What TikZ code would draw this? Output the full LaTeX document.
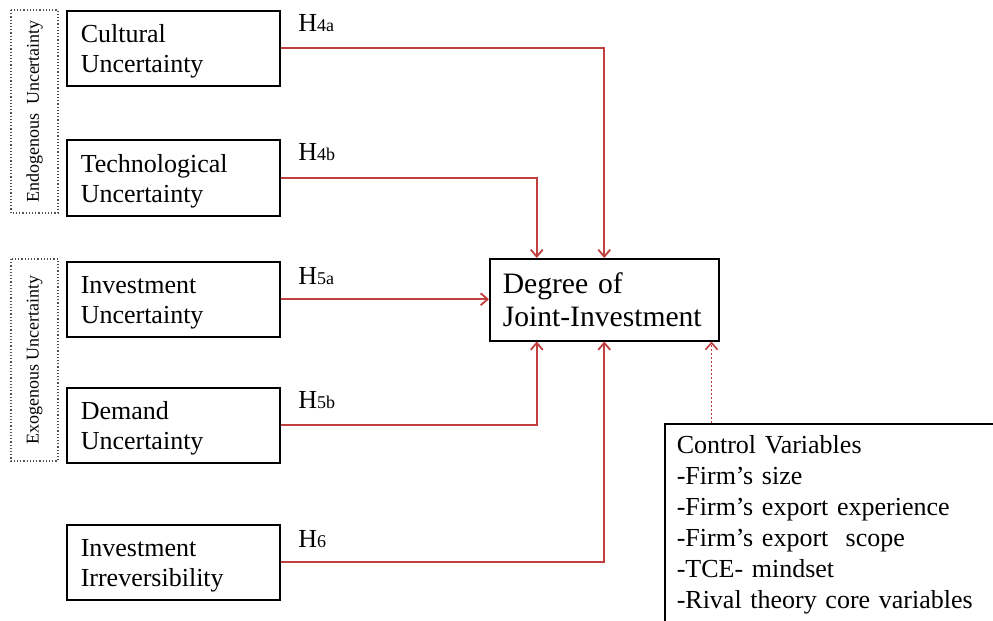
\documentclass[tikz,border=0pt]{standalone}
\usepackage{fontspec}
\setmainfont{Liberation Serif}
\usetikzlibrary{arrows.meta}
\definecolor{linkred}{RGB}{192,64,64}
\definecolor{grpgray}{RGB}{80,80,80}
\tikzset{
  var/.style={draw, line width=0.75pt, anchor=north west,
    minimum width=106.5pt, minimum height=37.5pt,
    text width=92.5pt, inner xsep=7pt, align=left,
    execute at begin node={\rule{0pt}{12.5pt}},
    font=\fontsize{13}{15}\selectfont},
  grp/.style={draw=grpgray, densely dotted, line width=0.6pt, rotate=90,
    minimum height=23.5pt, inner sep=0pt,
    font=\fontsize{9}{10}\selectfont},
  hyp/.style={anchor=base west, inner sep=0pt,
    font=\fontsize{13}{15}\selectfont},
  link/.style={draw=linkred, line width=0.9pt,
    -{Straight Barb[length=3.5pt,width=6pt]}},
  ctrllink/.style={link, dash pattern=on 1pt off 1pt, line width=0.8pt}
}
\newcommand{\hsub}[1]{{\fontsize{9}{9}\selectfont #1}}
\begin{document}
\begin{tikzpicture}[x=0.5pt,y=-0.5pt]
\useasboundingbox (0,0) rectangle (993,621);
\clip (0,0) rectangle (993,621);

% uncertainty groups
\node[grp, minimum width=101.5pt] (endo) at (34.5,111.5) {Endogenous\ \ Uncertainty};
\node[grp, minimum width=101pt] (exo) at (34.5,360) {Exogenous Uncertainty};

% independent variables
\node[var] (cult) at (66,10) {Cultural\\Uncertainty};
\node[var, minimum height=38pt] (tech) at (66,139) {Technological\\Uncertainty};
\node[var] (inv) at (66,261) {Investment\\Uncertainty};
\node[var] (dem) at (66,387) {Demand\\Uncertainty};
\node[var] (irr) at (66,524) {Investment\\Irreversibility};

% dependent variable
\node[draw, line width=0.75pt, anchor=north west,
  minimum width=114.5pt, minimum height=41pt,
  text width=101.5pt, inner xsep=6.5pt, align=left,
  font=\fontsize{14.8}{16.5}\selectfont] (deg) at (489,258) {Degree of\\Joint-Investment};

% control variables
\node[draw, line width=0.75pt, anchor=north west,
  minimum width=180pt, text width=168pt, inner xsep=6pt, inner ysep=6.1pt,
  align=left, font=\fontsize{13}{15.5}\selectfont] (ctrl) at (664,423)
  {Control Variables\\-Firm’s size\\-Firm’s export experience\\-Firm’s export\ \ scope\\-TCE- mindset\\-Rival theory core variables};

% hypothesis labels
\node[hyp] (h4a) at (298,32) {H\hsub{4a}};
\node[hyp] (h4b) at (298,160) {H\hsub{4b}};
\node[hyp] (h5a) at (298,285) {H\hsub{5a}};
\node[hyp] (h5b) at (298,408) {H\hsub{5b}};
\node[hyp] (h6) at (298,547) {H\hsub{6}};

% entry points on the dependent variable box
\coordinate (degTL) at ([xshift=-33.75pt]deg.north);
\coordinate (degBL) at ([xshift=-33.75pt]deg.south);
\coordinate (degBR) at ([xshift=-4pt]deg.south east);

% paths
\draw[link] (cult.east) -| (deg.north);
\draw[link] (tech.east) -| (degTL);
\draw[link] (inv.east) -- (inv.east -| deg.west);
\draw[link] (dem.east) -| (degBL);
\draw[link] (irr.east) -| (deg.south);
\draw[ctrllink] (ctrl.north west -| degBR) -- (degBR);
\end{tikzpicture}
\end{document}
